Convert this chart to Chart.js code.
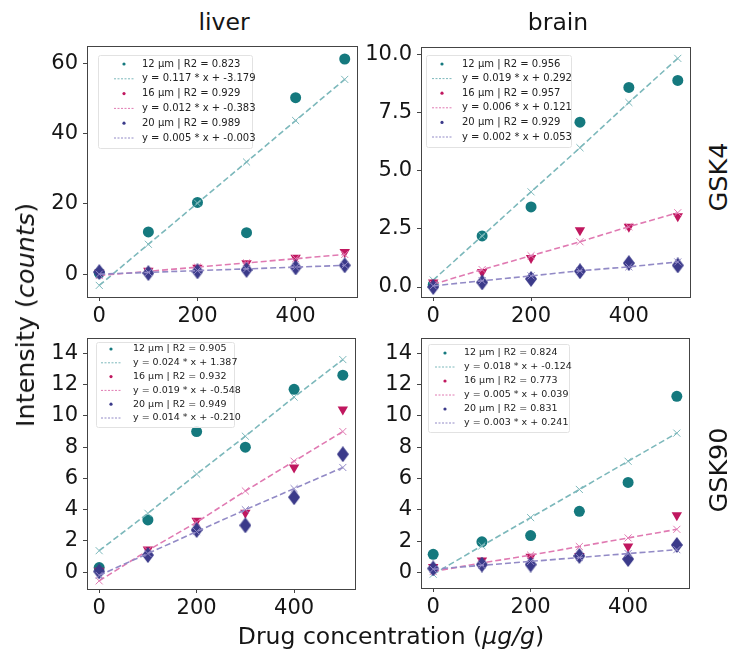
<!DOCTYPE html>
<html>
<head>
<meta charset="utf-8">
<script src="https://cdn.jsdelivr.net/npm/chart.js@4.4.1/dist/chart.umd.min.js"></script>
<style>
  body { margin: 0; background: #fff; }
  #wrap { position: relative; width: 735px; height: 651px; font-family: "DejaVu Sans", sans-serif; color: #151515; overflow: hidden; }
  canvas { position: absolute; }
  .lbl { position: absolute; font-size: 23.5px; white-space: nowrap; transform: translate(-50%, -50%); }
  .rot { transform: translate(-50%, -50%) rotate(-90deg); font-size: 25.5px; }
</style>
</head>
<body>
<div id="wrap">
  <canvas id="liverGsk4"></canvas>
  <canvas id="brainGsk4"></canvas>
  <canvas id="liverGsk90"></canvas>
  <canvas id="brainGsk90"></canvas>
  <div class="lbl" style="left:224px; top:22px;">liver</div>
  <div class="lbl" style="left:558px; top:22px;">brain</div>
  <div class="lbl rot" style="left:718px; top:177px;">GSK4</div>
  <div class="lbl rot" style="left:718px; top:470px;">GSK90</div>
  <div class="lbl rot" style="left:25px; top:315px;">Intensity (<i>counts</i>)</div>
  <div class="lbl" style="left:391px; top:636px;">Drug concentration (<i>µg/g</i>)</div>
</div>
<script>
// concentrations (µg/g)
const xVals = [0, 100, 200, 300, 400, 500];
const xTicks = [0, 200, 400];

// liver, GSK4
const liverGsk4_12 = [0.3, 12.0, 20.4, 11.8, 50.2, 61.2];
const liverGsk4_12fit = [-3.2, 8.5, 20.2, 31.9, 43.7, 55.4];
const liverGsk4_16 = [0.4, 1.0, 1.8, 3.1, 4.7, 6.3];
const liverGsk4_16fit = [-0.4, 0.8, 2.0, 3.2, 4.4, 5.6];
const liverGsk4_20 = [0.6, 0.3, 0.8, 1.2, 1.9, 2.5];
const liverGsk4_20fit = [0.0, 0.5, 1.0, 1.5, 2.0, 2.5];
const liverGsk4Legend = ['12 µm | R2 = 0.823', 'y = 0.117 * x + -3.179', '16 µm | R2 = 0.929',
  'y = 0.012 * x + -0.383', '20 µm | R2 = 0.989', 'y = 0.005 * x + -0.003'];
const liverGsk4YTicks = [0, 20, 40, 60];

// brain, GSK4
const brainGsk4_12 = [0.1, 2.2, 3.45, 7.1, 8.6, 8.9];
const brainGsk4_12fit = [0.3, 2.2, 4.1, 6.0, 7.95, 9.85];
const brainGsk4_16 = [0.2, 0.65, 1.25, 2.45, 2.6, 3.05];
const brainGsk4_16fit = [0.12, 0.75, 1.35, 1.95, 2.6, 3.2];
const brainGsk4_20 = [0.0, 0.2, 0.35, 0.68, 1.03, 0.93];
const brainGsk4_20fit = [0.05, 0.27, 0.48, 0.7, 0.87, 1.08];
const brainGsk4Legend = ['12 µm | R2 = 0.956', 'y = 0.019 * x + 0.292', '16 µm | R2 = 0.957',
  'y = 0.006 * x + 0.121', '20 µm | R2 = 0.929', 'y = 0.002 * x + 0.053'];
const brainGsk4YTicks = [0, 2.5, 5, 7.5, 10];

// liver, GSK90
const liverGsk90_12 = [0.3, 3.35, 9.0, 8.0, 11.7, 12.6];
const liverGsk90_12fit = [1.38, 3.77, 6.28, 8.7, 11.2, 13.6];
const liverGsk90_16 = [0.1, 1.45, 3.3, 3.8, 6.7, 10.4];
const liverGsk90_16fit = [-0.55, 1.4, 3.2, 5.2, 7.1, 9.0];
const liverGsk90_20 = [0.05, 1.1, 2.7, 3.0, 4.8, 7.55];
const liverGsk90_20fit = [-0.2, 1.2, 2.6, 4.0, 5.35, 6.7];
const liverGsk90Legend = ['12 µm | R2 = 0.905', 'y = 0.024 * x + 1.387', '16 µm | R2 = 0.932',
  'y = 0.019 * x + -0.548', '20 µm | R2 = 0.949', 'y = 0.014 * x + -0.210'];

// brain, GSK90
const brainGsk90_12 = [1.15, 1.95, 2.35, 3.9, 5.75, 11.25];
const brainGsk90_12fit = [-0.12, 1.7, 3.5, 5.3, 7.1, 8.9];
const brainGsk90_16 = [0.35, 0.75, 1.0, 1.05, 1.65, 3.65];
const brainGsk90_16fit = [0.05, 0.6, 1.1, 1.65, 2.2, 2.75];
const brainGsk90_20 = [0.25, 0.5, 0.5, 1.05, 0.85, 1.75];
const brainGsk90_20fit = [0.2, 0.45, 0.7, 0.95, 1.2, 1.45];
const brainGsk90Legend = ['12 µm | R2 = 0.824', 'y = 0.018 * x + -0.124', '16 µm | R2 = 0.773',
  'y = 0.005 * x + 0.039', '20 µm | R2 = 0.831', 'y = 0.003 * x + 0.241'];
const gsk90YTicks = [0, 2, 4, 6, 8, 10, 12, 14];

const dotColors = ['#15797e', '#c0175f', '#3b3a8a'];
const fitColors = ['#7cb8bb', '#e07ab2', '#928ac6'];

// thin diamond marker (matplotlib 'd')
const diamond = document.createElement('canvas');
diamond.width = 12; diamond.height = 16;
(function () {
  const c = diamond.getContext('2d');
  c.fillStyle = dotColors[2];
  c.beginPath();
  c.moveTo(6, 0); c.lineTo(12, 8); c.lineTo(6, 16); c.lineTo(0, 8);
  c.closePath(); c.fill();
})();

const framePlugin = {
  id: 'frame',
  afterDatasetsDraw(chart) {
    const a = chart.chartArea, ctx = chart.ctx;
    ctx.save();
    ctx.strokeStyle = '#444';
    ctx.lineWidth = 1;
    ctx.strokeRect(Math.round(a.left) + 0.5, Math.round(a.top) + 0.5,
      Math.round(a.right - a.left), Math.round(a.bottom - a.top));
    ctx.restore();
  }
};

const boxLegend = {
  id: 'boxLegend',
  afterDraw(chart, args, opts) {
    const ctx = chart.ctx, a = chart.chartArea;
    const x0 = a.left + opts.dx, y0 = a.top + opts.dy;
    ctx.save();
    ctx.fillStyle = 'rgba(255,255,255,0.85)';
    ctx.strokeStyle = '#e2e2e2';
    ctx.lineWidth = 1;
    ctx.beginPath();
    ctx.roundRect(x0 + 0.5, y0 + 0.5, opts.w, opts.h, 2);
    ctx.fill(); ctx.stroke();
    ctx.font = opts.size + 'px "DejaVu Sans"';
    ctx.textBaseline = 'middle';
    opts.labels.forEach((t, i) => {
      const y = y0 + opts.first + i * opts.row;
      const k = Math.floor(i / 2);
      if (i % 2 === 0) {
        ctx.fillStyle = dotColors[k];
        ctx.beginPath();
        ctx.arc(x0 + opts.mark, y, 1.6, 0, Math.PI * 2);
        ctx.fill();
      } else {
        ctx.strokeStyle = fitColors[k];
        ctx.setLineDash([2, 1.5]);
        ctx.beginPath();
        ctx.moveTo(x0 + opts.mark - 10, y);
        ctx.lineTo(x0 + opts.mark + 10, y);
        ctx.stroke();
        ctx.setLineDash([]);
      }
      ctx.fillStyle = '#222';
      ctx.fillText(t, x0 + opts.textX, y);
    });
    ctx.restore();
  }
};

function pts(ys) {
  return xVals.map((x, i) => ({ x: x, y: ys[i] }));
}

function makePanel(id, area, yMin, yMax, yTicks, digits, series, legend) {
  const padL = 62, padT = 10, padR = 4, padB = 40;
  const cv = document.getElementById(id);
  cv.style.left = (area.left - padL) + 'px';
  cv.style.top = (area.top - padT) + 'px';
  cv.width = area.right - area.left + padL + padR;
  cv.height = area.bottom - area.top + padT + padB;

  const styles = ['circle', 'triangle', diamond];
  const datasets = [];
  series.forEach((s, k) => {
    datasets.push({
      data: pts(s[0]),
      pointStyle: styles[k],
      rotation: k === 1 ? 180 : 0,
      pointRadius: k === 1 ? 6 : 5.5,
      backgroundColor: dotColors[k],
      borderColor: dotColors[k],
      borderWidth: 0,
      showLine: false
    });
    datasets.push({
      data: pts(s[1]),
      showLine: true,
      borderColor: fitColors[k],
      borderWidth: 1.6,
      borderDash: [6, 3],
      pointStyle: 'crossRot',
      pointRadius: 5,
      pointBorderWidth: 1,
      pointBorderColor: fitColors[k]
    });
  });
  datasets.forEach((d, i) => { d.order = datasets.length - i; });

  const tickFont = { family: 'DejaVu Sans', size: 21 };
  return new Chart(cv, {
    type: 'scatter',
    data: { datasets: datasets },
    plugins: [framePlugin, boxLegend],
    options: {
      responsive: false,
      animation: false,
      devicePixelRatio: 1,
      layout: { padding: { top: padT, right: padR, left: 0, bottom: 0 } },
      plugins: {
        legend: { display: false },
        tooltip: { enabled: false },
        boxLegend: legend
      },
      scales: {
        x: {
          type: 'linear', min: -25, max: 525,
          afterBuildTicks: ax => { ax.ticks = xTicks.map(v => ({ value: v })); },
          afterFit: ax => { ax.height = padB; ax.paddingLeft = 0; ax.paddingRight = 0; },
          grid: { display: true, drawOnChartArea: false, drawTicks: true, tickLength: 4, color: '#444' },
          border: { display: false },
          ticks: { font: tickFont, color: '#151515', padding: 3, maxRotation: 0 }
        },
        y: {
          type: 'linear', min: yMin, max: yMax,
          afterBuildTicks: ax => { ax.ticks = yTicks.map(v => ({ value: v })); },
          afterFit: ax => { ax.width = padL; ax.paddingTop = 0; ax.paddingBottom = 0; },
          grid: { display: true, drawOnChartArea: false, drawTicks: true, tickLength: 4, color: '#444' },
          border: { display: false },
          ticks: { font: tickFont, color: '#151515', padding: 5, callback: v => v.toFixed(digits) }
        }
      }
    }
  });
}

makePanel('liverGsk4', { left: 87, top: 46, right: 359, bottom: 297 }, -6.5, 64.9, liverGsk4YTicks, 0,
  [[liverGsk4_12, liverGsk4_12fit], [liverGsk4_16, liverGsk4_16fit], [liverGsk4_20, liverGsk4_20fit]],
  { labels: liverGsk4Legend, dx: 11, dy: 9, w: 154, h: 93, first: 9, row: 14.8, mark: 26, textX: 44, size: 10 });

makePanel('brainGsk4', { left: 421, top: 47, right: 692, bottom: 297 }, -0.43, 10.34, brainGsk4YTicks, 1,
  [[brainGsk4_12, brainGsk4_12fit], [brainGsk4_16, brainGsk4_16fit], [brainGsk4_20, brainGsk4_20fit]],
  { labels: brainGsk4Legend, dx: 5, dy: 8, w: 145, h: 92, first: 9, row: 14.6, mark: 16, textX: 36, size: 10 });

makePanel('liverGsk90', { left: 87, top: 338, right: 357, bottom: 589 }, -1.07, 14.98, gsk90YTicks, 0,
  [[liverGsk90_12, liverGsk90_12fit], [liverGsk90_16, liverGsk90_16fit], [liverGsk90_20, liverGsk90_20fit]],
  { labels: liverGsk90Legend, dx: 9, dy: 4, w: 138, h: 85, first: 7, row: 13.8, mark: 15, textX: 37, size: 9.5 });

makePanel('brainGsk90', { left: 421, top: 338, right: 691, bottom: 588 }, -1.0, 14.98, gsk90YTicks, 0,
  [[brainGsk90_12, brainGsk90_12fit], [brainGsk90_16, brainGsk90_16fit], [brainGsk90_20, brainGsk90_20fit]],
  { labels: brainGsk90Legend, dx: 7, dy: 6, w: 141, h: 88, first: 9, row: 14, mark: 17, textX: 36, size: 9.5 });
</script>
</body>
</html>
